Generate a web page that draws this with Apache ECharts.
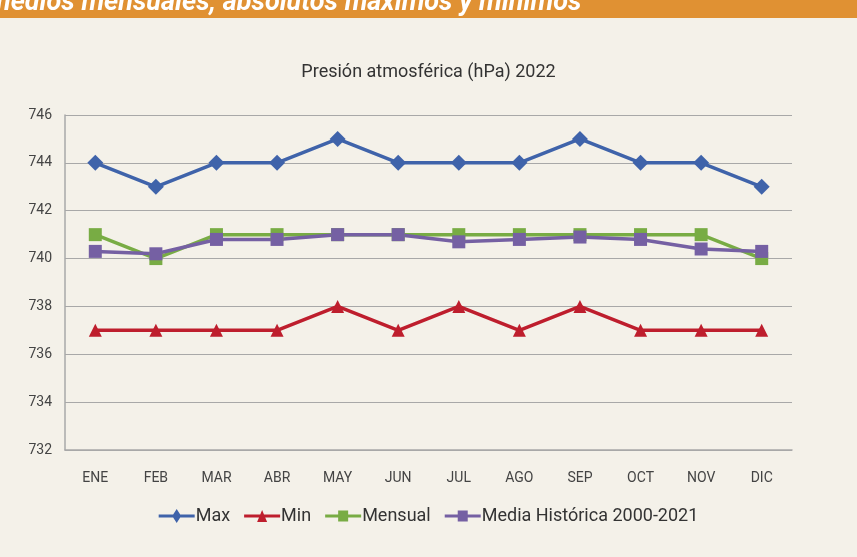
<!DOCTYPE html>
<html><head><meta charset="utf-8">
<script src="https://cdn.jsdelivr.net/npm/echarts@6/dist/echarts.min.js"></script>
<style>html,body{margin:0;padding:0;background:#F4F1E9;}#c{width:857px;height:557px;}</style>
</head><body><div id="c"></div>
<script>
const categories = ['ENE','FEB','MAR','ABR','MAY','JUN','JUL','AGO','SEP','OCT','NOV','DIC'];
const maxVals = [744,743,744,744,745,744,744,744,745,744,744,743];
const minVals = [737,737,737,737,738,737,738,737,738,737,737,737];
const mensualVals = [741,740,741,741,741,741,741,741,741,741,741,740];
const mediaVals = [740.3,740.2,740.8,740.8,741.0,741.0,740.7,740.8,740.9,740.8,740.4,740.3];
const yTicks = [732,734,736,738,740,742,744,746];

const chart = echarts.init(document.getElementById('c'), null, {renderer:'canvas'});
const font = 'Roboto, "Liberation Sans", sans-serif';
const iconDiamond = 'path://M0,5.5H36V8.5H0Z M18,0L22.5,7L18,14L13.5,7Z';
const iconTriangle = 'path://M0,5.5H36V8.5H0Z M18,1L23,13L13,13Z';
const iconSquare = 'path://M0,5.5H36V8.5H0Z M13,1.5H23V12.5H13Z';
function mk(name, data, color, symbol, size){
  return {name, type:'line', data, symbol, symbolSize:size, showSymbol:true,
    lineStyle:{color, width:3.5}, itemStyle:{color}, animation:false, z:2};
}
chart.setOption({
  backgroundColor:'#F4F1E9',
  textStyle:{fontFamily:font},
  graphic:[
    {type:'rect', shape:{x:0,y:0,width:857,height:18}, style:{fill:'#E09133'}, z:10},
    {type:'text', left:-12, top:-10, z:11, style:{text:'medios mensuales, absolutos máximos y mínimos', fill:'#fff', font:'italic bold 27px '+font}}
  ],
  title:{text:'Presión atmosférica (hPa) 2022', left:'center', top:58, textStyle:{fontSize:18, fontWeight:'normal', color:'#333', fontFamily:font}},
  legend:{bottom:27, left:'center', itemWidth:36, itemHeight:15, itemGap:14,
    textStyle:{fontSize:18, color:'#333', fontFamily:font, padding:[0,0,0,-4]},
    data:[
      {name:'Max', icon:iconDiamond},
      {name:'Min', icon:iconTriangle},
      {name:'Mensual', icon:iconSquare},
      {name:'Media Histórica 2000-2021', icon:iconSquare}
    ]},
  grid:{left:65, right:65, top:115, bottom:107},
  xAxis:{type:'category', data:categories, boundaryGap:true,
    axisLine:{lineStyle:{color:'#A8A8A8', width:1.5}}, axisTick:{show:false},
    axisLabel:{color:'#444', fontSize:14, margin:21, fontFamily:font}},
  yAxis:{type:'value', min:yTicks[0], max:yTicks[yTicks.length-1], interval:2,
    axisLine:{show:true, lineStyle:{color:'#A8A8A8', width:1.5}}, axisTick:{show:false},
    splitLine:{lineStyle:{color:'#A8A8A8', width:1.2}},
    axisLabel:{color:'#444', fontSize:14, margin:13, fontFamily:font}},
  series:[
    mk('Max', maxVals, '#3F63AA', 'diamond', 16),
    mk('Min', minVals, '#BE1E2D', 'triangle', 13),
    mk('Mensual', mensualVals, '#78AC44', 'rect', 13),
    mk('Media Histórica 2000-2021', mediaVals, '#7560A3', 'rect', 13)
  ]
});
</script></body></html>
